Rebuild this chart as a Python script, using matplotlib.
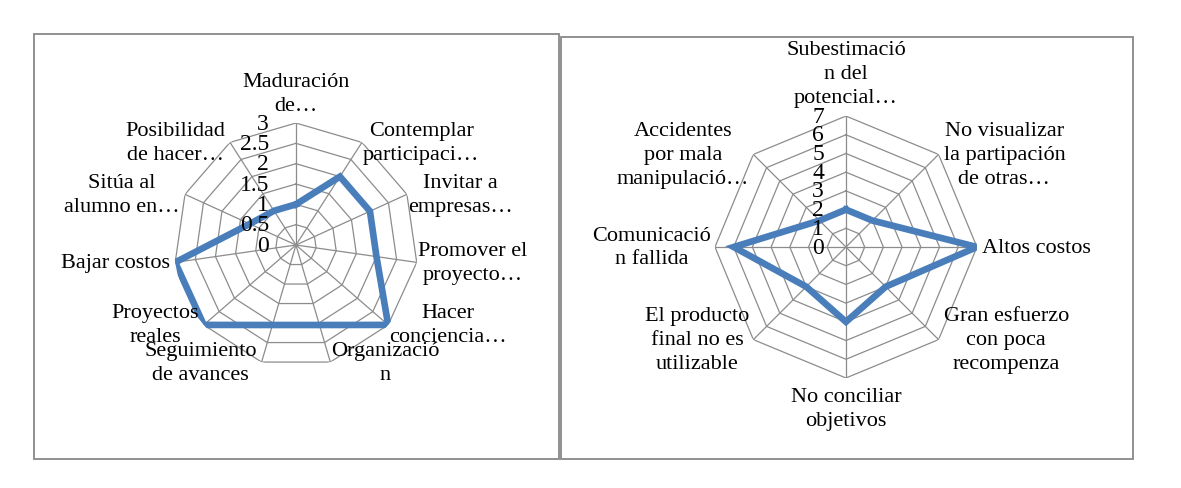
import matplotlib.pyplot as plt
import numpy as np
from matplotlib.patches import Rectangle

# left chart: beneficios
left_labels = ["Maduración\nde…", "Contemplar\nparticipaci…", "Invitar a\nempresas…",
               "Promover el\nproyecto…", "Hacer\nconciencia…", "Organizació\nn",
               "Seguimiento\nde avances", "Proyectos\nreales", "Bajar costos",
               "Sitúa al\nalumno en…", "Posibilidad\nde hacer…"]
left_values = [1.0, 2.0, 2.0, 2.0, 3.0, 2.05, 2.05, 3.0, 3.0, 1.25, 1.0]
left_ticks = [0, 0.5, 1, 1.5, 2, 2.5, 3]
left_ticklabels = ["0", "0.5", "1", "1.5", "2", "2.5", "3"]

# right chart: riesgos
right_labels = ["Subestimació\nn del\npotencial…", "No visualizar\nla partipación\nde otras…",
                "Altos costos", "Gran esfuerzo\ncon poca\nrecompenza",
                "No conciliar\nobjetivos", "El producto\nfinal no es\nutilizable",
                "Comunicació\nn fallida", "Accidentes\npor mala\nmanipulació…"]
right_values = [2, 2, 7, 3, 4, 3, 6, 2]
right_ticks = [0, 1, 2, 3, 4, 5, 6, 7]
right_ticklabels = ["0", "1", "2", "3", "4", "5", "6", "7"]

plt.rcParams['font.family'] = ['Liberation Serif', 'DejaVu Serif']

BLUE = "#4a7ebb"
GRID = "#8c8c8c"
FS = 16


def radar(ax, labels, values, ticks, ticklabels, tick_dx, pad):
    n = len(labels)
    angles = np.arange(n) * 2 * np.pi / n
    closed = np.append(angles, angles[0])
    rmax = ticks[-1]

    ax.set_theta_zero_location("N")
    ax.set_theta_direction(-1)
    ax.set_ylim(0, rmax)
    ax.grid(False)
    ax.set_xticks([])
    ax.set_yticks([])
    ax.spines["polar"].set_visible(False)
    ax.patch.set_alpha(0)

    # polygon rings and spokes, Excel style
    for r in ticks[1:]:
        ax.plot(closed, [r] * (n + 1), color=GRID, lw=0.9, zorder=1)
    for a in angles:
        ax.plot([a, a], [0, rmax], color=GRID, lw=0.9, zorder=1)

    ax.plot(closed, list(values) + [values[0]], color=BLUE, lw=4.8,
            solid_joinstyle="miter", zorder=3)

    for t, tl in zip(ticks, ticklabels):
        ax.annotate(tl, xy=(0, t), xytext=(tick_dx, 0), textcoords="offset pixels",
                    ha="right", va="center", fontsize=FS + 1, annotation_clip=False)

    for a, lab in zip(angles, labels):
        deg = np.degrees(a)
        if np.isclose(deg, 0):
            ha, va, off = "center", "bottom", (0, pad[0])
        elif np.isclose(deg, 180):
            ha, va, off = "center", "top", (0, -pad[0])
        elif deg < 180:
            ha, va, off = "left", "center", (pad[1], 0)
        else:
            ha, va, off = "right", "center", (-pad[2], 0)
        ax.annotate(lab, xy=(a, rmax), xytext=off, textcoords="offset pixels",
                    ha=ha, va=va, multialignment="center", fontsize=FS,
                    linespacing=1.35, annotation_clip=False)


fig = plt.figure(figsize=(11.81, 4.89), dpi=100)

ax1 = fig.add_axes([0.1473, 0.2474, 0.2066, 0.499], projection="polar")
radar(ax1, left_labels, left_values, left_ticks, left_ticklabels, -27, (8, 1, 5))

ax2 = fig.add_axes([0.6054, 0.2249, 0.2218, 0.5358], projection="polar")
radar(ax2, right_labels, right_values, right_ticks, right_ticklabels, -22, (9, 5, 4))

# chart borders
fig.add_artist(Rectangle((0.0288, 0.0593), 0.4445, 0.8691, transform=fig.transFigure,
                         fill=False, edgecolor="#888888", lw=1.3))
fig.add_artist(Rectangle((0.4750, 0.0593), 0.4844, 0.8630, transform=fig.transFigure,
                         fill=False, edgecolor="#888888", lw=1.3))

fig.savefig("out.png", dpi=100)
